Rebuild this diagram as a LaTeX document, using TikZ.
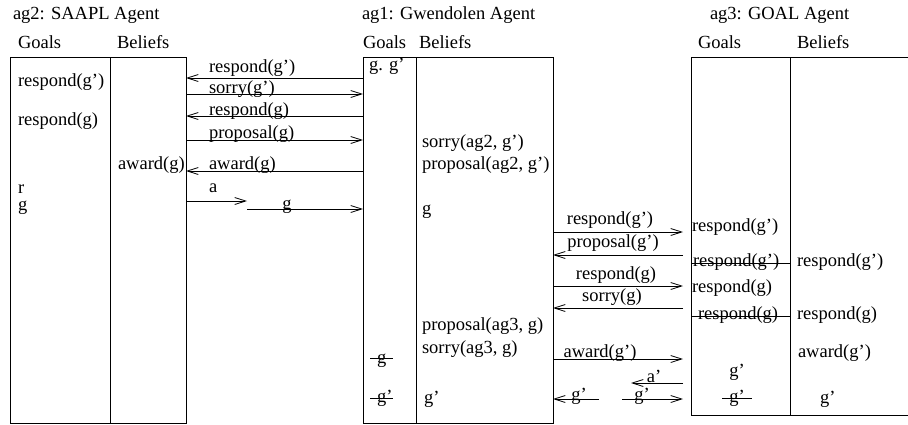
\documentclass[tikz,border=0pt]{standalone}
\usepackage{fontspec}
\setmainfont{Liberation Serif}
\usetikzlibrary{arrows.meta}
\begin{document}
\begin{tikzpicture}[x=1pt,y=-1pt,
  every node/.style={font=\fontsize{18.5}{22}\selectfont, inner sep=0pt, outer sep=0pt},
  txt/.style={anchor=west, text height=13pt, text depth=4pt},
  ctr/.style={anchor=center, text height=13pt, text depth=4pt},
  col/.style={draw, line width=0.8pt, anchor=north west, inner sep=0pt, outer sep=0pt},
  wire/.style={line width=0.8pt},
  msg/.style={wire, -{Straight Barb[length=11pt,width=7pt]}},
]
\useasboundingbox (0,0) rectangle (908,424);

% agent titles
\node[txt] (t2) at (13,15) {ag2: SAAPL Agent};
\node[txt] (t1) at (362,15) {ag1: Gwendolen Agent};
\node[txt] (t3) at (710,15) {ag3: GOAL Agent};

% column headers
\node[txt] (h2g) at (18,44) {Goals};
\node[txt] (h2b) at (117,44) {Beliefs};
\node[txt] (h1g) at (363,44) {Goals};
\node[txt] (h1b) at (419,44) {Beliefs};
\node[txt] (h3g) at (698,44) {Goals};
\node[txt] (h3b) at (797,44) {Beliefs};

% agent columns
\node[col, minimum width=100pt, minimum height=366pt] (a2g) at (10,57) {};
\node[col, minimum width=76pt,  minimum height=366pt] (a2b) at (110,57) {};
\node[col, minimum width=53pt,  minimum height=366pt] (a1g) at (363,57) {};
\node[col, minimum width=137pt, minimum height=366pt] (a1b) at (416,57) {};
\node[col, minimum width=99pt,  minimum height=358pt] (a3g) at (691,57) {};
\node[col, draw=none, minimum width=118pt, minimum height=358pt] (a3b) at (790,57) {};
\draw[wire] (a3b.north west) -- (a3b.north east);
\draw[wire] (a3b.south west) -- (a3b.south east);

% ag2 contents
\node[txt] (g2a) at (18,82) {respond(g')};
\node[txt] (g2b) at (18,121) {respond(g)};
\node[txt] (b2a) at (118,165) {award(g)};
\node[txt] (g2c) at (18,189) {r};
\node[txt] (g2d) at (18,206) {g};

% ag1 contents
\node[txt] (g1a) at (369,66) {g. g'};
\node[txt] (b1a) at (422,143) {sorry(ag2, g')};
\node[txt] (b1b) at (422,165) {proposal(ag2, g')};
\node[txt] (b1c) at (422,210) {g};
\node[txt] (b1d) at (422,326) {proposal(ag3, g)};
\node[txt] (b1e) at (422,349) {sorry(ag3, g)};
\node[txt] (g1b) at (377,359) {g};
\draw[wire] (370,358) -- (393,358);
\node[txt] (g1c) at (377,398) {g'};
\draw[wire] (370,398) -- (393,398);
\node[txt] (b1f) at (424,399) {g'};

% ag3 contents
\node[txt] (g3a) at (692,227) {respond(g')};
\node[txt] (g3b) at (693,262) {respond(g')};
\draw[wire] (a3g.west |- 0,263) -- (a3g.east |- 0,263);
\node[txt] (g3c) at (692,288) {respond(g)};
\node[txt] (g3d) at (698,315) {respond(g)};
\draw[wire] (a3g.west |- 0,316) -- (a3g.east |- 0,316);
\node[txt] (b3a) at (797,262) {respond(g')};
\node[txt] (b3b) at (797,315) {respond(g)};
\node[txt] (b3c) at (798,353) {award(g')};
\node[ctr] (g3e) at (737,372) {g'};
\node[ctr] (g3f) at (737,398) {g'};
\draw[wire] (722,398) -- (752,398);
\node[txt] (b3d) at (820,399) {g'};

% messages between ag2 and ag1
\draw[msg] (a1g.west |- 0,78) -- (a2b.east |- 0,78);
\node[txt] (m1) at (209,68) {respond(g')};
\draw[msg] (a2b.east |- 0,94) -- (a1g.west |- 0,94);
\node[txt] (m2) at (209,89) {sorry(g')};
\draw[msg] (a1g.west |- 0,116) -- (a2b.east |- 0,116);
\node[txt] (m3) at (209,111) {respond(g)};
\draw[msg] (a2b.east |- 0,140) -- (a1g.west |- 0,140);
\node[txt] (m4) at (209,134) {proposal(g)};
\draw[msg] (a1g.west |- 0,171) -- (a2b.east |- 0,171);
\node[txt] (m5) at (209,165) {award(g)};
\coordinate (aend) at (247,201);
\draw[msg] (a2b.east |- aend) -- (aend);
\node[txt] (m6) at (209,188) {a};
\coordinate (gbeg) at (247,209);
\draw[msg] (gbeg) -- (a1g.west |- gbeg);
\node[ctr] (m7) at (287,205) {g};

% messages between ag1 and ag3
\coordinate (r3) at (683,0);
\draw[msg] (a1b.east |- 0,232) -- (r3 |- 0,232);
\node[ctr] (n1) at (610,220) {respond(g')};
\draw[msg] (r3 |- 0,255) -- (a1b.east |- 0,255);
\node[ctr] (n2) at (613,243) {proposal(g')};
\draw[msg] (a1b.east |- 0,286) -- (r3 |- 0,286);
\node[ctr] (n3) at (616,275) {respond(g)};
\draw[msg] (r3 |- 0,308) -- (a1b.east |- 0,308);
\node[ctr] (n4) at (612,297) {sorry(g)};
\draw[msg] (a1b.east |- 0,359) -- (r3 |- 0,359);
\node[ctr] (n5) at (600,353) {award(g')};
\coordinate (apend) at (631,383);
\draw[msg] (r3 |- apend) -- (apend);
\node[ctr] (n6) at (654,378) {a'};
\coordinate (gl) at (599,399);
\draw[msg] (gl) -- (a1b.east |- gl);
\node[ctr] (n7) at (579,396) {g'};
\coordinate (gr) at (622,399);
\draw[msg] (gr) -- (r3 |- gr);
\node[ctr] (n8) at (642,396) {g'};
\end{tikzpicture}
\end{document}
